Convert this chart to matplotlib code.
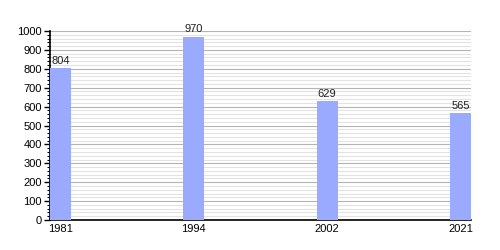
import matplotlib.pyplot as plt
import numpy as np
from matplotlib.ticker import MultipleLocator

years = ["1981", "1994", "2002", "2021"]
population = [804, 970, 629, 565]

plt.rcParams['font.family'] = ['Liberation Sans', 'DejaVu Sans']

fig = plt.figure(figsize=(5, 2.5), dpi=100)
ax = fig.add_axes([0.1, 0.12, 0.842, 0.756])

w = 0.158
x = np.arange(len(years))
bars = ax.bar(x, population, width=w, align='edge', color='#99aaff', zorder=3)

for xi, v in zip(x, population):
    ax.text(xi + w / 2, v + 12, str(v), ha='center', va='bottom', fontsize=8, color='#222222')

ax.set_xlim(0, len(years) - 1 + w)
ax.set_ylim(0, 1000)
ax.set_xticks(x + w / 2)
ax.set_xticklabels(years)
ax.yaxis.set_major_locator(MultipleLocator(100))
ax.yaxis.set_minor_locator(MultipleLocator(20))

ax.grid(axis='y', which='major', color='#b4b4b4', linewidth=0.8, zorder=0)
ax.grid(axis='y', which='minor', color='#e2e2e2', linewidth=0.8, zorder=0)

for s in ['top', 'right']:
    ax.spines[s].set_visible(False)
ax.spines['left'].set_linewidth(1.2)
ax.spines['bottom'].set_linewidth(1.2)

ax.tick_params(axis='x', length=0, labelsize=8, pad=3)
ax.tick_params(axis='y', which='major', length=4, width=1, labelsize=8, pad=2)
ax.tick_params(axis='y', which='minor', length=2, width=0.8)

fig.savefig('out.png', dpi=100)
